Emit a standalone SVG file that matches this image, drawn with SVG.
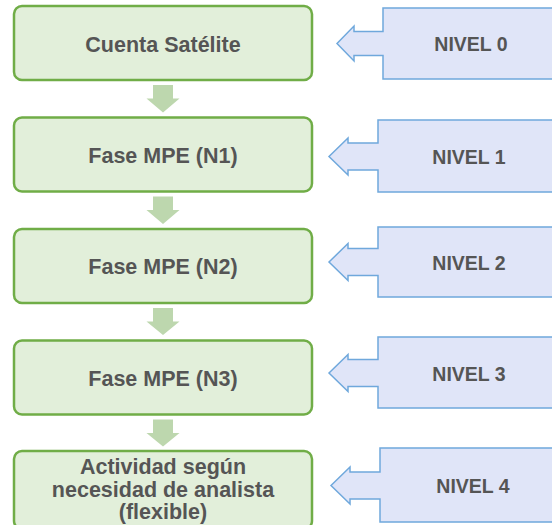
<svg xmlns="http://www.w3.org/2000/svg" width="552" height="525" viewBox="0 0 552 525">
  <style>
    .box { fill: #E2EFDA; stroke: #70AD47; stroke-width: 2.5; }
    .btxt { font-family: "Liberation Sans", Arial, sans-serif; font-weight: bold; font-size: 21.5px; fill: #555555; text-anchor: middle; }
    .call { fill: #E0E5F8; stroke: #6FA8DC; stroke-width: 1.5; }
    .ctxt { font-family: "Liberation Sans", Arial, sans-serif; font-weight: bold; font-size: 19.5px; fill: #555555; text-anchor: middle; }
    .down { fill: #BDD7AE; }
  </style>
  <rect width="552" height="525" fill="#FFFFFF"/>

  <g id="connectors">
    <polygon class="down" points="153,85 173,85 173,98.5 179.5,98.5 163,112.5 146.5,98.5 153,98.5"/>
    <polygon class="down" points="153,196.5 173,196.5 173,210 179.5,210 163,224 146.5,210 153,210"/>
    <polygon class="down" points="153,308 173,308 173,321.5 179.5,321.5 163,335 146.5,321.5 153,321.5"/>
    <polygon class="down" points="153,419.5 173,419.5 173,433 179.5,433 163,446.5 146.5,433 153,433"/>
  </g>

  <g id="box-cuenta">
    <rect class="box" x="14" y="6" width="298" height="74" rx="8"/>
    <text class="btxt" x="163" y="51.5">Cuenta Satélite</text>
  </g>
  <g id="box-n1">
    <rect class="box" x="14" y="117.5" width="298" height="74" rx="8"/>
    <text class="btxt" x="163" y="162.5">Fase MPE (N1)</text>
  </g>
  <g id="box-n2">
    <rect class="box" x="14" y="229" width="298" height="74" rx="8"/>
    <text class="btxt" x="163" y="274">Fase MPE (N2)</text>
  </g>
  <g id="box-n3">
    <rect class="box" x="14" y="340.5" width="298" height="74" rx="8"/>
    <text class="btxt" x="163" y="385.5">Fase MPE (N3)</text>
  </g>
  <g id="box-n4">
    <rect class="box" x="14" y="451" width="298" height="78" rx="8"/>
    <text class="btxt" x="163" y="473.5">Actividad según</text>
    <text class="btxt" x="163" y="496.5">necesidad de analista</text>
    <text class="btxt" x="163" y="519">(flexible)</text>
  </g>

  <g id="nivel-0">
    <path class="call" d="M337,43.5 L354,26 L354,31.5 L383,31.5 L383,8 L560,8 L560,79 L383,79 L383,55.5 L354,55.5 L354,61 Z"/>
    <text class="ctxt" x="471" y="51">NIVEL 0</text>
  </g>
  <g id="nivel-1">
    <path class="call" d="M329,156.5 L348,138 L348,143 L378,143 L378,120 L560,120 L560,192 L378,192 L378,170 L348,170 L348,175 Z"/>
    <text class="ctxt" x="469" y="164">NIVEL 1</text>
  </g>
  <g id="nivel-2">
    <path class="call" d="M329,262 L348,243.5 L348,248.5 L378,248.5 L378,227 L560,227 L560,297 L378,297 L378,275.5 L348,275.5 L348,280.5 Z"/>
    <text class="ctxt" x="469" y="269.5">NIVEL 2</text>
  </g>
  <g id="nivel-3">
    <path class="call" d="M329,373 L348,354.5 L348,359.5 L378,359.5 L378,337 L560,337 L560,408 L378,408 L378,386.5 L348,386.5 L348,391.5 Z"/>
    <text class="ctxt" x="469" y="380.5">NIVEL 3</text>
  </g>
  <g id="nivel-4">
    <path class="call" d="M331,485.5 L350,467 L350,472 L380,472 L380,448 L560,448 L560,522 L380,522 L380,499 L350,499 L350,504 Z"/>
    <text class="ctxt" x="473" y="493">NIVEL 4</text>
  </g>
</svg>
